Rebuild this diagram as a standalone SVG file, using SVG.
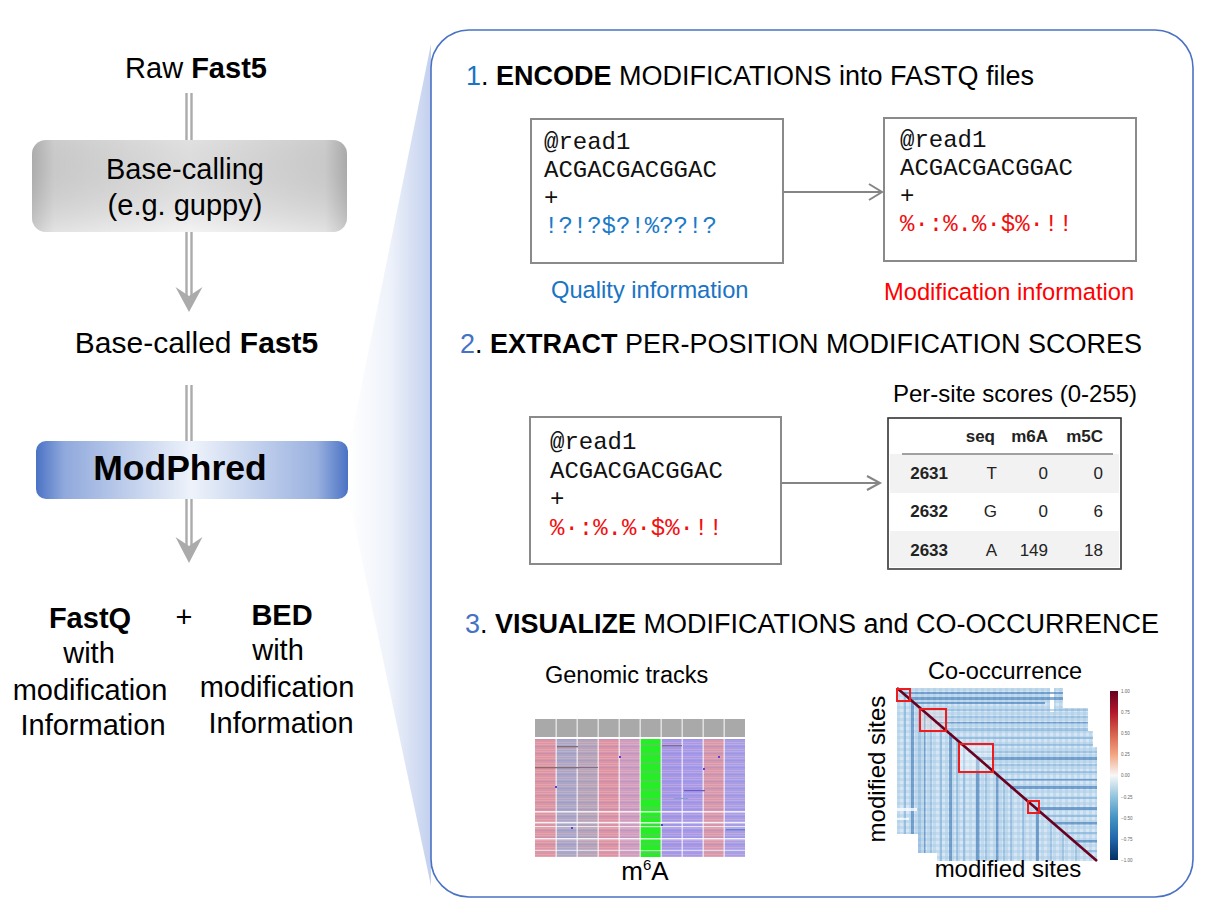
<svg xmlns="http://www.w3.org/2000/svg" width="1206" height="920" viewBox="0 0 1206 920">
<defs>
<style>
.sans{font-family:"Liberation Sans",Arial,sans-serif;}
.mono{font-family:"Liberation Mono","Courier New",monospace;font-size:24px;}
.left{font-family:"Liberation Sans",Arial,sans-serif;fill:#000;text-anchor:middle;}
.head{font-family:"Liberation Sans",Arial,sans-serif;font-size:27px;fill:#000;}
.sub{font-family:"Liberation Sans",Arial,sans-serif;font-size:23.7px;}
.tbl{font-family:"Liberation Sans",Arial,sans-serif;font-size:17px;fill:#222;text-anchor:end;}
.fq{fill:#fff;stroke:#8a8a8a;stroke-width:2;}
.dbl{stroke:#ababab;stroke-width:2.4;fill:none;}
.ahead{fill:#ababab;}
.conn{stroke:#858585;stroke-width:2;fill:none;}
.tick{font-family:"Liberation Sans",Arial,sans-serif;font-size:4.5px;fill:#666;}
.sq{fill:none;stroke:#ee1c1c;stroke-width:2;}
.hd{fill:#2a6cae;opacity:0.55;}
.hm{fill:#5f9bcc;opacity:0.4;}
</style>
<linearGradient id="gGray" x1="0" y1="0" x2="1" y2="0">
<stop offset="0" stop-color="#b9b9b9"/>
<stop offset="0.07" stop-color="#d9d9d9"/>
<stop offset="0.5" stop-color="#efefef"/>
<stop offset="0.93" stop-color="#d9d9d9"/>
<stop offset="1" stop-color="#b6b6b6"/>
</linearGradient>
<linearGradient id="gGrayV" x1="0" y1="0" x2="0" y2="1">
<stop offset="0" stop-color="#000" stop-opacity="0.06"/>
<stop offset="1" stop-color="#fff" stop-opacity="0.25"/>
</linearGradient>
<linearGradient id="gBlue" x1="0" y1="0" x2="1" y2="0">
<stop offset="0" stop-color="#4a72c4"/>
<stop offset="0.09" stop-color="#90a9dc"/>
<stop offset="0.5" stop-color="#eef3fb"/>
<stop offset="0.9" stop-color="#9ab1df"/>
<stop offset="1" stop-color="#4a72c4"/>
</linearGradient>
<linearGradient id="gWedge" x1="348" y1="0" x2="431" y2="0" gradientUnits="userSpaceOnUse">
<stop offset="0" stop-color="#ffffff"/>
<stop offset="0.5" stop-color="#eef2fa"/>
<stop offset="1" stop-color="#c3d0ee"/>
</linearGradient>
<linearGradient id="gCbar" x1="0" y1="0" x2="0" y2="1">
<stop offset="0" stop-color="#67001f"/>
<stop offset="0.125" stop-color="#b2182b"/>
<stop offset="0.25" stop-color="#d6604d"/>
<stop offset="0.375" stop-color="#f4a582"/>
<stop offset="0.5" stop-color="#f7f7f7"/>
<stop offset="0.625" stop-color="#92c5de"/>
<stop offset="0.75" stop-color="#4393c3"/>
<stop offset="0.875" stop-color="#2166ac"/>
<stop offset="1" stop-color="#053061"/>
</linearGradient>
<pattern id="pStripe" x="0" y="739" width="21" height="7" patternUnits="userSpaceOnUse">
<rect x="0" y="0" width="21" height="1" fill="#7a7ae0" opacity="0.2"/>
<rect x="0" y="3" width="21" height="1" fill="#ffc0c0" opacity="0.3"/>
<rect x="0" y="5" width="21" height="1" fill="#ffffff" opacity="0.15"/>
</pattern>
<pattern id="pGreen" x="0" y="739" width="21" height="9" patternUnits="userSpaceOnUse">
<rect x="0" y="0" width="21" height="9" fill="#26ee26"/>
<rect x="0" y="5" width="21" height="2" fill="#4fd24f"/>
</pattern>
<pattern id="pHm" x="897" y="688" width="6" height="6" patternUnits="userSpaceOnUse">
<rect x="0" y="0" width="3" height="3" fill="#a9cbe6" opacity="0.5"/>
<rect x="3" y="3" width="3" height="3" fill="#e2eef8" opacity="0.6"/>
</pattern>
<clipPath id="cHm">
<polygon points="897,688 1063,688 1063,708 1088,708 1088,731 1093,731 1093,747 1097,747 1097,861 937,861 937,853 918,853 918,834 897,834"/>
</clipPath>
</defs>

<rect width="1206" height="920" fill="#fff"/>

<!-- zoom wedge -->
<polygon id="wedge" points="348,452 431,44 431,886 348,494" fill="url(#gWedge)"/>

<!-- main panel -->
<g id="panel">
<rect x="431" y="30" width="762" height="867" rx="38" ry="38" fill="#fff" stroke="#4a72c4" stroke-width="1.6"/>
</g>

<!-- left column nodes -->
<g id="raw-fast5">
<text class="left" x="196" y="78" style="font-size:29px">Raw <tspan font-weight="bold">Fast5</tspan></text>
</g>
<g id="basecalling">
<rect x="32" y="140" width="315" height="92" rx="14" fill="url(#gGray)"/>
<rect x="32" y="140" width="315" height="92" rx="14" fill="url(#gGrayV)"/>
<text class="left" x="185" y="179" style="font-size:29px">Base-calling</text>
<text class="left" x="185" y="215" style="font-size:29px">(e.g. guppy)</text>
</g>
<g id="basecalled-fast5">
<text class="left" x="196.5" y="353" style="font-size:30px">Base-called <tspan font-weight="bold">Fast5</tspan></text>
</g>
<g id="modphred">
<rect x="36" y="441" width="312" height="58" rx="10" fill="url(#gBlue)"/>
<text class="left" x="180" y="480" style="font-size:35.5px;font-weight:bold">ModPhred</text>
</g>
<g id="fastq-out">
<text class="left" x="90" y="628" style="font-size:29px;font-weight:bold">FastQ</text>
<text class="left" x="89" y="663" style="font-size:29px">with</text>
<text class="left" x="90" y="700" style="font-size:29px">modification</text>
<text class="left" x="93" y="735" style="font-size:29px">Information</text>
</g>
<g id="plus">
<text class="left" x="184" y="627" style="font-size:29px">+</text>
</g>
<g id="bed-out">
<text class="left" x="282" y="625" style="font-size:29px;font-weight:bold">BED</text>
<text class="left" x="278" y="660" style="font-size:29px">with</text>
<text class="left" x="277" y="697" style="font-size:29px">modification</text>
<text class="left" x="281" y="733" style="font-size:29px">Information</text>
</g>

<!-- section 1 -->
<g id="sec1-title">
<text class="head" x="466" y="85"><tspan style="fill:#1a74c4">1</tspan>. <tspan font-weight="bold">ENCODE</tspan> MODIFICATIONS into FASTQ files</text>
</g>
<g id="fastq-quality">
<rect class="fq" x="531" y="119" width="252" height="144"/>
<text class="mono" x="544" y="149" style="fill:#111">@read1</text>
<text class="mono" x="544" y="177" style="fill:#111">ACGACGACGGAC</text>
<text class="mono" x="544" y="205" style="fill:#111">+</text>
<text class="mono" x="544" y="233" style="fill:#1a7ac8">!?!?$?!%??!?</text>
<text class="sub" x="551" y="298" style="fill:#1a74c4">Quality information</text>
</g>
<g id="fastq-mod">
<rect class="fq" x="884" y="118" width="252" height="143"/>
<text class="mono" x="900" y="147" style="fill:#111">@read1</text>
<text class="mono" x="900" y="175" style="fill:#111">ACGACGACGGAC</text>
<text class="mono" x="900" y="203" style="fill:#111">+</text>
<text class="mono" x="900" y="231" style="fill:#f01010">%·:%.%·$%·!!</text>
<text class="sub" x="884" y="300" style="fill:#ff0000">Modification information</text>
</g>

<!-- section 2 -->
<g id="sec2-title">
<text class="head" x="460" y="353"><tspan style="fill:#4472c4">2</tspan>. <tspan font-weight="bold">EXTRACT</tspan> PER-POSITION MODIFICATION SCORES</text>
</g>
<g id="fastq-extract">
<rect class="fq" x="530" y="417" width="251" height="147"/>
<text class="mono" x="550" y="449" style="fill:#111">@read1</text>
<text class="mono" x="550" y="478" style="fill:#111">ACGACGACGGAC</text>
<text class="mono" x="550" y="506" style="fill:#111">+</text>
<text class="mono" x="550" y="535" style="fill:#f01010">%·:%.%·$%·!!</text>
</g>
<g id="score-table">
<text class="sans" x="893" y="402" font-size="24" fill="#000">Per-site scores (0-255)</text>
<rect x="888" y="418" width="233" height="151" fill="#fff"/>
<rect x="890" y="454" width="229" height="39" fill="#f2f2f2"/>
<rect x="890" y="531" width="229" height="36" fill="#f2f2f2"/>
<line x1="902" y1="454" x2="1113" y2="454" stroke="#a0a0a0" stroke-width="2"/>
<rect x="888" y="418" width="233" height="151" fill="none" stroke="#333" stroke-width="1.6"/>
<line x1="888" y1="569" x2="1121" y2="569" stroke="#666" stroke-width="1.5"/>
<g class="tbl" font-weight="bold">
<text x="995" y="442">seq</text><text x="1048" y="442">m6A</text><text x="1103" y="442">m5C</text>
<text x="948" y="479">2631</text><text x="948" y="517">2632</text><text x="948" y="556">2633</text>
</g>
<g class="tbl">
<text x="997" y="479">T</text><text x="1048" y="479">0</text><text x="1103" y="479">0</text>
<text x="997" y="517">G</text><text x="1048" y="517">0</text><text x="1103" y="517">6</text>
<text x="997" y="556">A</text><text x="1048" y="556">149</text><text x="1103" y="556">18</text>
</g>
</g>

<!-- section 3 -->
<g id="sec3-title">
<text class="head" x="465" y="633"><tspan style="fill:#4472c4">3</tspan>. <tspan font-weight="bold">VISUALIZE</tspan> MODIFICATIONS and CO-OCCURRENCE</text>
</g>
<g id="genomic-tracks">
<text class="sans" x="545" y="683" font-size="23.5" fill="#000">Genomic tracks</text>
<rect x="535" y="719" width="210" height="18" fill="#a9a9a9"/>
<rect x="535" y="739" width="21" height="118" fill="#dc95a2"/>
<rect x="556" y="739" width="21" height="118" fill="#aaa6c6"/>
<rect x="577" y="739" width="21" height="118" fill="#b6a4b8"/>
<rect x="598" y="739" width="21" height="118" fill="#dc94a4"/>
<rect x="619" y="739" width="21" height="118" fill="#cf9ebe"/>
<rect x="640" y="739" width="21" height="118" fill="url(#pGreen)"/>
<rect x="661" y="739" width="21" height="118" fill="#a498e6"/>
<rect x="682" y="739" width="21" height="118" fill="#a69ae8"/>
<rect x="703" y="739" width="21" height="118" fill="#d898ac"/>
<rect x="724" y="739" width="21" height="118" fill="#a89ee6"/>
<rect x="535" y="739" width="105" height="118" fill="url(#pStripe)"/>
<rect x="661" y="739" width="84" height="118" fill="url(#pStripe)"/>
<g fill="#fff">
<rect x="535" y="737" width="210" height="2"/>
<rect x="555.5" y="719" width="1.4" height="138" opacity="0.7"/>
<rect x="576.5" y="719" width="1.4" height="138" opacity="0.7"/>
<rect x="597.5" y="719" width="1.4" height="138" opacity="0.7"/>
<rect x="618.5" y="719" width="1.4" height="138" opacity="0.7"/>
<rect x="639.5" y="719" width="1.4" height="138" opacity="0.7"/>
<rect x="660.5" y="719" width="1.4" height="138" opacity="0.7"/>
<rect x="681.5" y="719" width="1.4" height="138" opacity="0.7"/>
<rect x="702.5" y="719" width="1.4" height="138" opacity="0.7"/>
<rect x="723.5" y="719" width="1.4" height="138" opacity="0.7"/>
<rect x="535" y="811" width="210" height="1.5" opacity="0.8"/>
<rect x="535" y="822" width="210" height="1.5" opacity="0.85"/>
<rect x="535" y="826" width="210" height="1.2" opacity="0.7"/>
<rect x="535" y="838" width="210" height="1.5" opacity="0.85"/>
<rect x="535" y="850" width="210" height="1.2" opacity="0.6"/>
</g>
<g>
<rect x="557" y="746" width="21" height="1.3" fill="#8a6a6a"/>
<rect x="535" y="767" width="44" height="1.3" fill="#8a6a6a"/>
<rect x="578" y="767" width="20" height="1" fill="#8a6a8a"/>
<rect x="662" y="745" width="20" height="1.2" fill="#8a6a8a"/>
<rect x="684" y="790" width="21" height="1.3" fill="#6a5ad0"/>
<rect x="674" y="798" width="14" height="1" fill="#8aa0c8"/>
<rect x="726" y="829" width="19" height="1.3" fill="#6a80d0"/>
<rect x="571" y="827" width="2" height="2" fill="#6040d0"/>
<rect x="555" y="786" width="2" height="2" fill="#6040d0"/>
<rect x="718" y="756" width="2" height="2" fill="#6040d0"/>
<rect x="619" y="756" width="2" height="2" fill="#6040d0"/>
<rect x="703" y="768" width="2" height="2" fill="#6040d0"/>
<rect x="661" y="824" width="2" height="2" fill="#6040d0"/>
</g>
<text class="sans" x="645" y="880" font-size="26" fill="#000" text-anchor="middle">m<tspan font-size="15" dy="-10">6</tspan><tspan dy="10">A</tspan></text>
</g>
<g id="cooccurrence">
<text class="sans" x="928" y="679" font-size="23.5" fill="#000">Co-occurrence</text>
<g clip-path="url(#cHm)">
<rect x="895" y="686" width="205" height="178" fill="#c2daee"/>
<rect x="895" y="686" width="205" height="178" fill="url(#pHm)"/>
<rect x="1050" y="688" width="4" height="24" fill="#fff"/>
<rect class="hd" x="903" y="692" width="197" height="2"/>
<rect class="hd" x="908" y="697" width="192" height="3"/>
<rect class="hd" x="915" y="702" width="130" height="2"/>
<rect class="hm" x="920" y="709" width="180" height="2"/>
<rect class="hm" x="925" y="716" width="175" height="2"/>
<rect class="hd" x="935" y="722" width="165" height="1.5"/>
<rect class="hm" x="940" y="728" width="160" height="3"/>
<rect class="hm" x="950" y="737" width="150" height="2"/>
<rect class="hm" x="960" y="744" width="140" height="2"/>
<rect class="hm" x="968" y="751" width="132" height="2"/>
<rect class="hd" x="977" y="757" width="123" height="3"/>
<rect class="hm" x="985" y="764" width="115" height="2"/>
<rect class="hm" x="993" y="771" width="107" height="2"/>
<rect class="hd" x="1003" y="779" width="97" height="1.5"/>
<rect class="hd" x="1010" y="786" width="90" height="3"/>
<rect class="hm" x="1023" y="797" width="77" height="2"/>
<rect class="hd" x="1035" y="807" width="65" height="3"/>
<rect class="hm" x="1043" y="815" width="57" height="2"/>
<rect class="hd" x="1052" y="822" width="48" height="2.5"/>
<rect class="hm" x="1063" y="832" width="37" height="2"/>
<rect class="hd" x="1073" y="840" width="27" height="2.5"/>
<rect class="hm" x="1083" y="850" width="17" height="2"/>
<rect class="hm" x="904" y="694" width="2" height="170"/>
<rect class="hd" x="911" y="700" width="3" height="165"/>
<rect class="hm" x="918" y="706" width="3" height="160"/>
<rect class="hd" x="924" y="711" width="1.5" height="155"/>
<rect class="hm" x="930" y="716" width="2" height="150"/>
<rect class="hm" x="940" y="725" width="2" height="140"/>
<rect class="hd" x="949" y="733" width="3" height="132"/>
<rect class="hm" x="956" y="739" width="2" height="126"/>
<rect class="hm" x="963" y="745" width="2" height="120"/>
<rect class="hd" x="976" y="756" width="3.5" height="110"/>
<rect class="hm" x="985" y="764" width="2" height="100"/>
<rect class="hd" x="996" y="773" width="2.5" height="92"/>
<rect class="hm" x="1003" y="779" width="2" height="86"/>
<rect class="hm" x="1010" y="786" width="2" height="80"/>
<rect class="hm" x="1022" y="796" width="2" height="70"/>
<rect class="hd" x="1036" y="808" width="3" height="58"/>
<rect class="hm" x="1050" y="820" width="2" height="45"/>
<rect class="hm" x="1062" y="831" width="2" height="34"/>
<rect class="hm" x="1075" y="842" width="2" height="24"/>
<rect x="959" y="744" width="34" height="28" fill="#fff" opacity="0.35"/>
<rect x="920" y="709" width="26" height="22" fill="#fde0d8" opacity="0.35"/>
<rect x="897" y="808" width="20" height="3" fill="#fff" opacity="0.8"/>
<rect x="897" y="818" width="12" height="2" fill="#fff" opacity="0.7"/>
</g>
<line x1="897" y1="688" x2="1097" y2="861" stroke="#6a0020" stroke-width="2.6"/>
<rect class="sq" x="897" y="689" width="13" height="12"/>
<rect class="sq" x="920" y="709" width="26" height="22"/>
<rect class="sq" x="959" y="744" width="34" height="28"/>
<rect class="sq" x="1028" y="801" width="11" height="12"/>
<rect x="1110" y="691" width="8" height="169" fill="url(#gCbar)"/>
<g class="tick">
<text x="1121" y="693">1.00</text>
<text x="1121" y="714">0.75</text>
<text x="1121" y="735">0.50</text>
<text x="1121" y="756">0.25</text>
<text x="1121" y="777">0.00</text>
<text x="1121" y="799">−0.25</text>
<text x="1121" y="820">−0.50</text>
<text x="1121" y="841">−0.75</text>
<text x="1121" y="862">−1.00</text>
</g>
<text class="sans" x="885" y="769" font-size="24" fill="#000" text-anchor="middle" transform="rotate(-90 885 769)">modified sites</text>
<text class="sans" x="1008" y="877" font-size="24" fill="#000" text-anchor="middle">modified sites</text>
</g>

<!-- connectors -->
<g id="connectors">
<path class="dbl" d="M186.5,93 V140 M191.5,93 V140"/>
<path class="dbl" d="M186.5,232 V296 M191.5,232 V296"/>
<polygon class="ahead" points="175.5,287 189,296 202.5,287 189,312"/>
<path class="dbl" d="M186.5,385 V441 M191.5,385 V441"/>
<path class="dbl" d="M186.5,499 V548 M191.5,499 V548"/>
<polygon class="ahead" points="175.5,537 189,546 202.5,537 189,563"/>
<line class="conn" x1="783" y1="192" x2="882" y2="192"/>
<polyline class="conn" points="869,184 882,192 869,200"/>
<line class="conn" x1="781" y1="483" x2="880" y2="483"/>
<polyline class="conn" points="867,476 880,483 867,490"/>
</g>
</svg>
